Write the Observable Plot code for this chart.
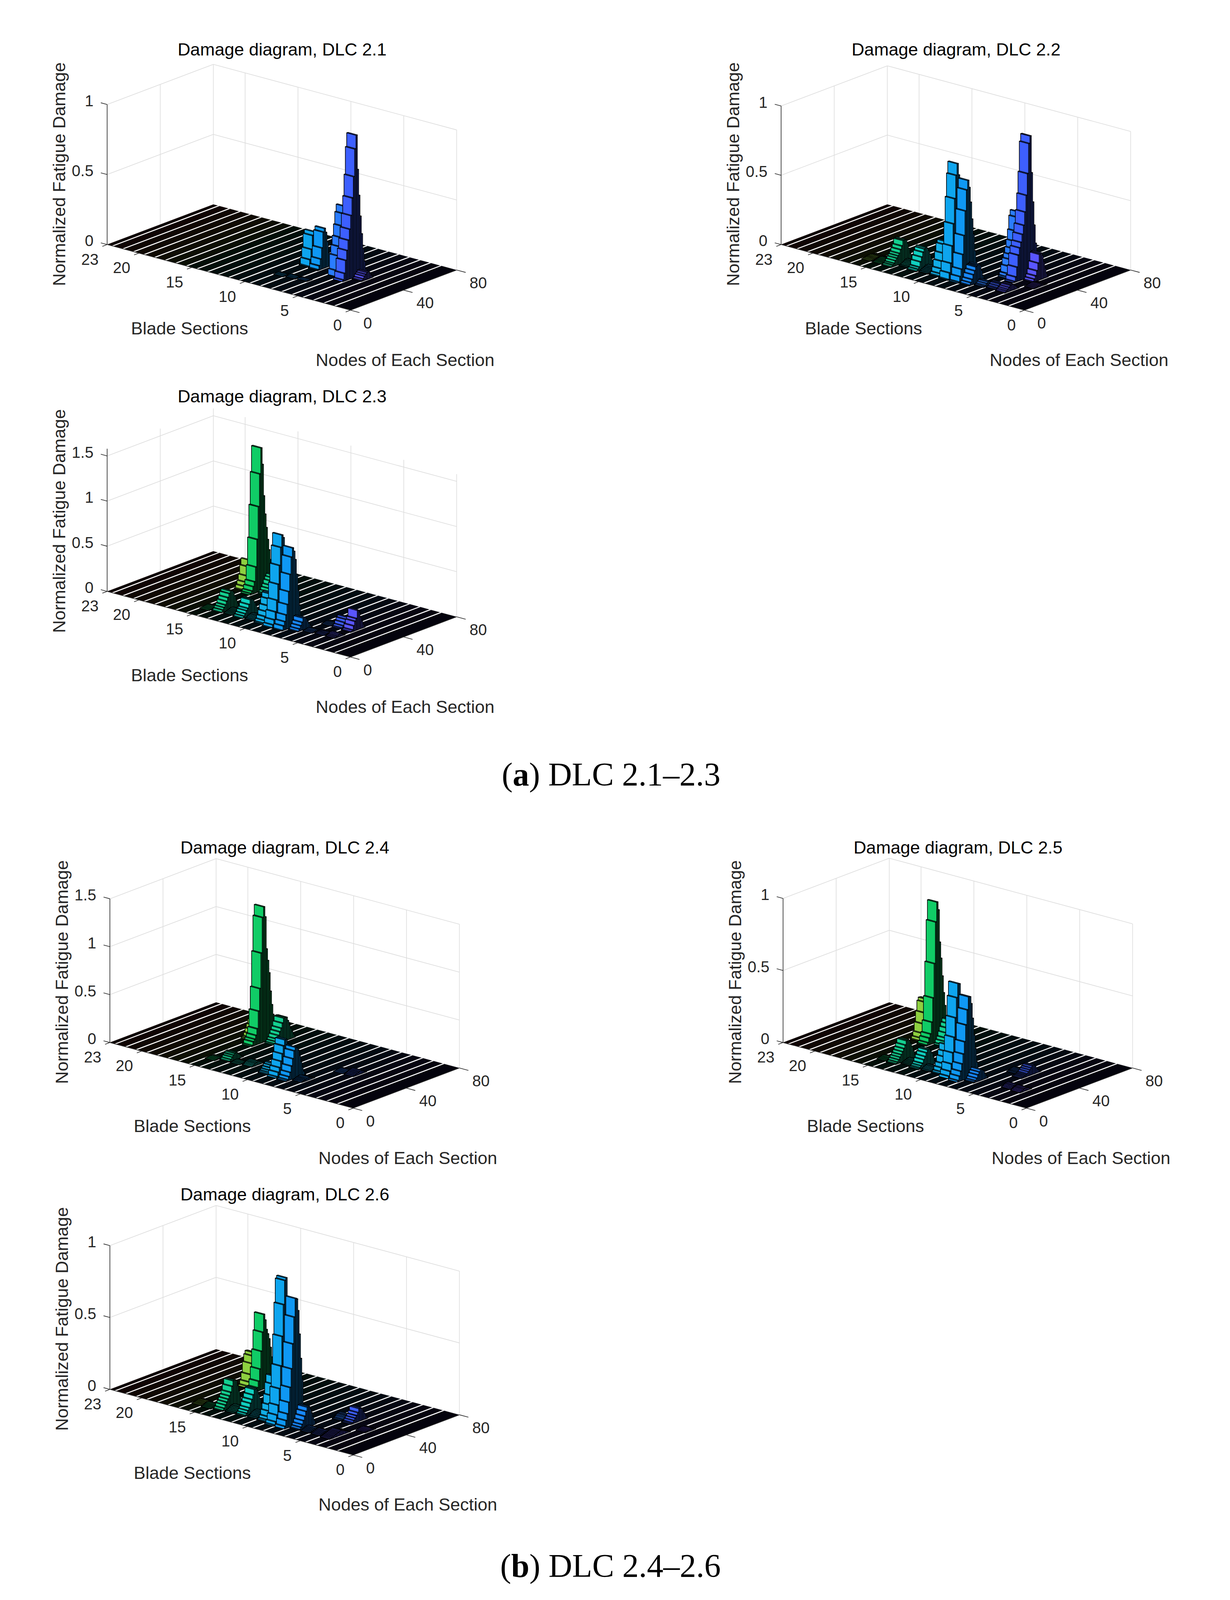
<!DOCTYPE html>
<html><head><meta charset="utf-8">
<script src="https://cdn.jsdelivr.net/npm/d3@7"></script>
<script src="https://cdn.jsdelivr.net/npm/@observablehq/plot@0.6"></script>
<style>
html,body{margin:0;padding:0;background:#fff}
#page{position:relative;width:3150px;height:4096px;overflow:hidden;background:#fff}
#page svg{position:absolute;left:0;top:0;background:transparent}
.cap{position:absolute;font-family:"Liberation Serif",serif;font-size:84px;line-height:90px;color:#000;white-space:nowrap}
</style></head><body><div id="page"></div>
<script>
// ---------- values ----------
const sectionTicks = [0, 5, 10, 15, 20, 23];
const nodeTicks = [0, 40, 80];
const wallSections = [5, 10, 15, 20];
const sectionColors = ["#4030c0","#5038d8","#6048f0","#5a55ff","#3d5fff","#2a7cff","#1888ff","#0f98f4","#0ea5ee","#12aee6","#12b8d0","#10d0c0","#12c8a8","#14d090","#10cc66","#8ed040","#b8d030","#d0c030","#e0a030","#e08030","#e06030","#e04030","#d03020"];

const dlc21 = [
 {s:9,n:37,v:[.005,.05,.12,.215,.24,.21,.15,.08,.04,.01]},
 {s:8,n:36,v:[.005,.03,.075,.15,.26,.283,.25,.18,.1,.05,.015]},
 {s:9,n:18,v:[.004,.006,.008,.006,.004]},
 {s:8,n:19,v:[.004,.007,.009,.006,.003]},
 {s:7,n:20,v:[.004,.006,.005,.003]},
 {s:6,n:35,v:[.042,.143,.206,.268,.346,.431,.48,.40,.30,.22,.15,.09,.04]},
 {s:5,n:31,v:[.012,.055,.144,.211,.281,.356,.45,.572,.721,.915,1.01,.76,.572,.42,.29,.18,.09,.03]},
 {s:4,n:37,v:[.005,.015,.03,.04,.05,.05,.04,.02,.008]}
];
const dlc22 = [
 {s:16,n:9,v:[.003,.005,.007,.01,.012,.013,.012,.01,.008,.005,.003]},
 {s:15,n:9,v:[.003,.005,.008,.011,.014,.016,.015,.012,.008,.005,.003]},
 {s:14,n:8,v:[.004,.014,.023,.038,.053,.066,.08,.103,.126,.162,.165,.16,.13,.09,.05,.02]},
 {s:13,n:13,v:[.004,.008,.014,.02,.026,.03,.028,.02,.012,.005]},
 {s:12,n:11,v:[.003,.014,.026,.06,.091,.122,.142,.15,.14,.12,.09,.06,.03,.01]},
 {s:11,n:12,v:[.005,.01,.015,.02,.025,.03,.03,.025,.015,.008]},
 {s:10,n:12,v:[.005,.02,.051,.10,.155,.213,.233,.22,.18,.13,.08,.04,.01]},
 {s:9,n:11,v:[.005,.049,.115,.236,.392,.57,.735,.816,.73,.55,.40,.28,.17,.09,.03]},
 {s:8,n:11,v:[.007,.043,.093,.195,.328,.502,.65,.716,.66,.55,.425,.315,.19,.11,.05,.01]},
 {s:7,n:11,v:[.005,.02,.04,.07,.095,.12,.125,.13,.12,.08,.04,.01]},
 {s:6,n:14,v:[.004,.01,.02,.03,.03,.02,.01]},
 {s:6,n:32,v:[.008,.027,.076,.122,.153,.194,.243,.313,.409,.445,.40,.33,.27,.2,.14,.08,.03,.01]},
 {s:5,n:15,v:[.004,.01,.02,.03,.035,.03,.02,.01,.004]},
 {s:5,n:29,v:[.008,.037,.104,.187,.236,.272,.326,.388,.48,.597,.75,.964,1.015,.745,.53,.36,.225,.15,.08,.03,.01]},
 {s:4,n:14,v:[.004,.012,.02,.03,.04,.045,.04,.03,.02,.01,.004]},
 {s:4,n:35,v:[.005,.02,.04,.073,.125,.185,.19,.17,.12,.07,.03,.01]},
 {s:3,n:28,v:[.004,.006,.008,.01,.012,.012,.01,.008,.006,.004]}
];
const dlc23 = [
 {s:16,n:44,v:[.003,.038,.079,.142,.238,.307,.27,.2,.14,.08,.03]},
 {s:15,n:41,v:[.015,.037,.08,.128,.286,.586,.943,1.30,1.583,1.393,1.04,.832,.677,.54,.42,.306,.178,.10,.05,.015]},
 {s:15,n:10,v:[.003,.005,.008,.01,.012,.012,.01,.006]},
 {s:14,n:46,v:[.01,.03,.06,.09,.13,.16,.185,.17,.13,.08,.04,.01]},
 {s:14,n:11,v:[.004,.025,.047,.07,.105,.14,.18,.203,.2,.18,.13,.08,.04,.01]},
 {s:13,n:12,v:[.004,.008,.014,.02,.026,.03,.028,.02,.012,.005]},
 {s:12,n:11,v:[.001,.02,.042,.07,.09,.127,.175,.18,.16,.13,.09,.05,.02]},
 {s:11,n:12,v:[.005,.01,.02,.03,.035,.035,.03,.02,.01]},
 {s:10,n:11,v:[.01,.035,.07,.12,.18,.25,.30,.31,.28,.22,.16,.1,.05,.01]},
 {s:9,n:9,v:[.003,.03,.08,.162,.286,.457,.66,.854,.986,.95,.80,.62,.43,.27,.13,.05,.01]},
 {s:8,n:9,v:[.005,.049,.092,.16,.27,.407,.592,.778,.875,.83,.733,.564,.383,.215,.075,.03,.005]},
 {s:7,n:13,v:[.003,.025,.055,.088,.13,.13,.11,.08,.05,.02,.01]},
 {s:6,n:16,v:[.004,.008,.012,.014,.012,.008,.004]},
 {s:6,n:30,v:[.004,.008,.012,.015,.012,.008,.004]},
 {s:5,n:30,v:[.01,.03,.06,.09,.11,.105,.08,.05,.02,.005]},
 {s:5,n:17,v:[.004,.008,.012,.014,.012,.008,.004]},
 {s:4,n:29,v:[.005,.02,.06,.105,.13,.216,.19,.13,.08,.04,.01]},
 {s:4,n:17,v:[.005,.012,.02,.03,.03,.02,.012,.005]}
];
const dlc24 = [
 {s:16,n:47,v:[.01,.02,.05,.09,.13,.175,.16,.12,.07,.03,.01]},
 {s:15,n:40,v:[.01,.044,.066,.10,.164,.342,.573,.938,1.304,1.411,1.30,.96,.834,.70,.503,.357,.25,.16,.09,.04,.01]},
 {s:15,n:12,v:[.003,.005,.007,.008,.008,.006,.004]},
 {s:14,n:49,v:[.01,.028,.05,.082,.115,.148,.195,.243,.245,.24,.2,.15,.11,.07,.04,.015]},
 {s:14,n:15,v:[.005,.02,.04,.055,.07,.072,.06,.045,.03,.015,.005]},
 {s:13,n:15,v:[.003,.006,.01,.012,.012,.008,.004]},
 {s:12,n:16,v:[.005,.015,.025,.033,.036,.035,.03,.02,.01,.004]},
 {s:10,n:12,v:[.008,.02,.035,.055,.075,.09,.09,.08,.06,.04,.02,.005]},
 {s:9,n:11,v:[.015,.056,.10,.161,.233,.311,.369,.37,.32,.25,.18,.11,.06,.02]},
 {s:8,n:10,v:[.003,.014,.04,.08,.14,.212,.289,.322,.31,.28,.22,.15,.09,.04,.01]},
 {s:7,n:14,v:[.004,.01,.015,.02,.024,.025,.02,.015,.008,.003]},
 {s:6,n:37,v:[.003,.005,.008,.01,.012,.01,.006]},
 {s:5,n:37,v:[.004,.01,.018,.025,.032,.036,.03,.02,.01,.004]}
];
const dlc25 = [
 {s:16,n:44,v:[.005,.021,.051,.112,.185,.254,.272,.27,.22,.15,.09,.04,.01]},
 {s:15,n:41,v:[.005,.02,.048,.073,.151,.316,.551,.836,.971,.913,.685,.57,.443,.324,.231,.134,.08,.04,.01]},
 {s:15,n:11,v:[.003,.006,.009,.012,.012,.01,.006]},
 {s:14,n:46,v:[.01,.03,.05,.08,.11,.137,.16,.15,.11,.07,.03,.01]},
 {s:14,n:10,v:[.004,.013,.026,.04,.054,.071,.089,.11,.137,.14,.13,.11,.08,.05,.02,.005]},
 {s:13,n:13,v:[.004,.008,.012,.016,.02,.022,.02,.014,.006]},
 {s:12,n:11,v:[.004,.01,.02,.033,.055,.074,.096,.113,.115,.1,.08,.05,.02,.005]},
 {s:11,n:12,v:[.004,.008,.014,.02,.024,.022,.016,.008]},
 {s:10,n:12,v:[.005,.016,.039,.066,.108,.143,.186,.18,.15,.11,.07,.03,.01]},
 {s:9,n:10,v:[.017,.048,.096,.169,.273,.405,.541,.636,.63,.52,.4,.28,.17,.09,.03,.005]},
 {s:8,n:9,v:[.01,.037,.068,.115,.18,.262,.375,.476,.564,.56,.508,.403,.284,.186,.09,.04,.01]},
 {s:7,n:13,v:[.004,.012,.026,.045,.062,.076,.07,.06,.04,.02,.005]},
 {s:6,n:37,v:[.003,.006,.01,.013,.015,.012,.008,.004]},
 {s:5,n:33,v:[.004,.006,.01,.015,.02,.03,.04,.05,.06,.062,.05,.035,.02,.01,.004]},
 {s:4,n:17,v:[.004,.01,.016,.02,.02,.016,.01,.004]},
 {s:3,n:16,v:[.004,.01,.016,.02,.022,.02,.015,.008,.003]}
];
const dlc26 = [
 {s:16,n:45,v:[.012,.038,.086,.159,.208,.228,.225,.18,.12,.07,.03,.01]},
 {s:16,n:10,v:[.003,.005,.008,.01,.012,.012,.01,.006,.003]},
 {s:15,n:43,v:[.006,.025,.067,.148,.268,.397,.518,.475,.405,.371,.333,.27,.199,.14,.09,.05,.02,.005]},
 {s:15,n:9,v:[.004,.008,.012,.016,.018,.016,.012,.006]},
 {s:14,n:10,v:[.004,.017,.036,.053,.07,.089,.111,.149,.185,.185,.18,.14,.1,.06,.03,.01]},
 {s:13,n:11,v:[.004,.008,.014,.02,.026,.03,.03,.026,.018,.01,.004]},
 {s:12,n:11,v:[.006,.018,.033,.05,.077,.10,.129,.164,.165,.15,.12,.085,.05,.02,.005]},
 {s:11,n:12,v:[.005,.01,.016,.022,.028,.03,.03,.024,.016,.008]},
 {s:10,n:11,v:[.004,.012,.03,.064,.104,.165,.242,.294,.29,.25,.19,.13,.07,.03,.005]},
 {s:9,n:9,v:[.007,.026,.069,.134,.246,.40,.602,.82,.985,1.0,.84,.65,.47,.3,.15,.06,.01]},
 {s:8,n:9,v:[.018,.054,.097,.174,.274,.40,.57,.753,.88,.872,.787,.62,.447,.30,.124,.06,.02]},
 {s:7,n:12,v:[.005,.017,.033,.056,.083,.113,.14,.14,.12,.09,.06,.03,.01]},
 {s:6,n:12,v:[.004,.008,.012,.016,.02,.02,.016,.01,.004]},
 {s:6,n:36,v:[.005,.01,.018,.025,.03,.03,.02,.01,.004]},
 {s:5,n:12,v:[.004,.008,.012,.016,.02,.02,.016,.012,.006]},
 {s:5,n:35,v:[.003,.008,.02,.033,.047,.065,.09,.09,.08,.06,.04,.02,.005]},
 {s:4,n:11,v:[.004,.007,.011,.015,.018,.022,.026,.03,.032,.03,.026,.02,.016,.01,.006,.003]},
 {s:3,n:30,v:[.004,.007,.01,.012,.012,.01,.007,.004]}
];

// one entry per axes: its data, vertical scale and place on the page
const panels = [
 {title:"Damage diagram, DLC 2.1",ridges:dlc21,zTicks:[0,.5,1],zTop:1,zUnit:380,ox:0,oy:0},
 {title:"Damage diagram, DLC 2.2",ridges:dlc22,zTicks:[0,.5,1],zTop:1,zUnit:376,ox:1726,oy:0},
 {title:"Damage diagram, DLC 2.3",ridges:dlc23,zTicks:[0,.5,1,1.5],zTop:1.58,zUnit:245,ox:0,oy:941},
 {title:"Damage diagram, DLC 2.4",ridges:dlc24,zTicks:[0,.5,1,1.5],zTop:1.5,zUnit:260,ox:7,oy:2165},
 {title:"Damage diagram, DLC 2.5",ridges:dlc25,zTicks:[0,.5,1],zTop:1,zUnit:391,ox:1731,oy:2165},
 {title:"Damage diagram, DLC 2.6",ridges:dlc26,zTicks:[0,.5,1],zTop:1,zUnit:390,ox:7,oy:3106}
];

// ---------- 3-D view: the axes' fixed oblique projection ----------
const FX = 897, FY = 841, SX = -27.09, SY = -7.74, NX = 3.4, NY = -1.3625;
const BAR = 0.44, STRIP = 0.42;
const fs = 45, tickFs = 40;
// the browser window is limited to 4096 px tall, so the sheet's 4341 px are fitted by the y scale
const SHEET_H = 4341, VIEW_H = 4096, K = VIEW_H / SHEET_H;
const font = '"Liberation Sans",Arial,sans-serif';
const shade = (c,k)=>{const r=d3.rgb(c);return d3.rgb(r.r*k,r.g*k,r.b*k).formatHex();};

function panelMarks(panel, index){
  const P=(s,n,z)=>({x:panel.ox+FX+s*SX+n*NX,y:panel.oy+FY+s*SY+n*NY-z*panel.zUnit});
  const at=(x,y,t)=>({x:panel.ox+x,y:panel.oy+y,t});
  let id=0;
  const poly=(list,pts,fill)=>{id++;[...pts,pts[0]].forEach(p=>{const q=P(...p);list.push({x:q.x,y:q.y,id:index+"-"+id,fill});});};
  const floor=[], faces=[];
  for(let k=23;k>=1;k--){
    const lo = k===1 ? 0 : k-STRIP, hi = k===23 ? 23 : k+STRIP;
    poly(floor,[[hi,0,0],[lo,0,0],[lo,80,0],[hi,80,0]],shade(sectionColors[k-1],.07));
  }
  const bars=panel.ridges.flatMap(r=>r.v.map((z,i)=>({s:r.s,n:r.n+i,z})))
    .sort((a,b)=>b.s-a.s||b.n-a.n);
  for(const {s,n,z} of bars){
    const c=sectionColors[s-1], a=s+BAR, b=s-BAR, f=n-.5, h=n+.5;
    poly(faces,[[b,f,0],[b,h,0],[b,h,z],[b,f,z]],shade(c,.42));
    poly(faces,[[a,f,0],[b,f,0],[b,f,z],[a,f,z]],c);
    poly(faces,[[a,f,z],[b,f,z],[b,h,z],[a,h,z]],c);
  }
  const seg=(a,b)=>{const p=P(...a),q=P(...b);return {x1:p.x,y1:p.y,x2:q.x,y2:q.y};};
  const gridRows=[];
  panel.zTicks.forEach(z=>{gridRows.push(seg([23,0,z],[23,80,z]),seg([23,80,z],[0,80,z]));});
  [0,40,80].forEach(n=>gridRows.push(seg([23,n,0],[23,n,panel.zTop])));
  [...wallSections,0].forEach(s=>gridRows.push(seg([s,80,0],[s,80,panel.zTop])));
  const axisRows=[seg([23,0,0],[23,0,panel.zTop]),seg([23,0,0],[0,0,0]),seg([0,0,0],[0,80,0])];
  panel.zTicks.forEach(z=>axisRows.push(seg([23,0,z],[23.6,0,z])));
  sectionTicks.forEach(s=>axisRows.push(seg([s,0,0],[s,-3.6,0])));
  nodeTicks.forEach(n=>axisRows.push(seg([0,n,0],[-.85,n,0])));
  const zLab=panel.zTicks.map(z=>({...P(23,0,z),t:String(z)}));
  const sLab=sectionTicks.map(s=>({...P(s,0,0),t:String(s)}));
  const nLab=nodeTicks.map(n=>({...P(0,n,0),t:String(n)}));
  const txt={fontFamily:font,fontSize:fs,fill:"#262626",text:"t"};
  const tick={...txt,fontSize:tickFs};
  return [
    Plot.link(gridRows,{x1:"x1",y1:"y1",x2:"x2",y2:"y2",stroke:"#dcdcdc",strokeWidth:1.6}),
    Plot.line(floor,{x:"x",y:"y",z:"id",fill:"fill",stroke:"none"}),
    Plot.line(faces,{x:"x",y:"y",z:"id",fill:"fill",stroke:"#000",strokeWidth:1.6}),
    Plot.link(axisRows,{x1:"x1",y1:"y1",x2:"x2",y2:"y2",stroke:"#262626",strokeWidth:1.6}),
    Plot.text(zLab,{x:"x",y:"y",...tick,textAnchor:"end",dx:-35,dy:-9*K}),
    Plot.text(sLab,{x:"x",y:"y",...tick,textAnchor:"end",dx:-22,dy:41*K}),
    Plot.text(nLab,{x:"x",y:"y",...tick,textAnchor:"start",dx:33,dy:36*K}),
    Plot.text([at(485,891,"Blade Sections"),at(1037,977,"Nodes of Each Section")],{x:"x",y:"y",...txt}),
    Plot.text([at(152,472,"Normalized Fatigue Damage")],{x:"x",y:"y",...txt,rotate:-90}),
    Plot.text([at(722,135,panel.title)],{x:"x",y:"y",...txt,fill:"#000"})
  ];
}

const page=document.getElementById("page");
const svg=Plot.plot({
  width:3150,height:VIEW_H,margin:0,
  x:{domain:[0,3150],range:[0,3150],axis:null},
  y:{domain:[0,SHEET_H],range:[0,VIEW_H],axis:null},
  color:{type:"identity"},
  marks:panels.flatMap(panelMarks)
});
page.appendChild(svg);
[["a","DLC 2.1–2.3",1285,2130],["b","DLC 2.4–2.6",1281,4277]].forEach(([l,t,x,base])=>{
  const d=document.createElement("div");d.className="cap";d.style.left=x+"px";d.style.top=(base*K-72)+"px";
  d.innerHTML="(<b>"+l+"</b>) "+t;page.appendChild(d);
});
</script></body></html>
